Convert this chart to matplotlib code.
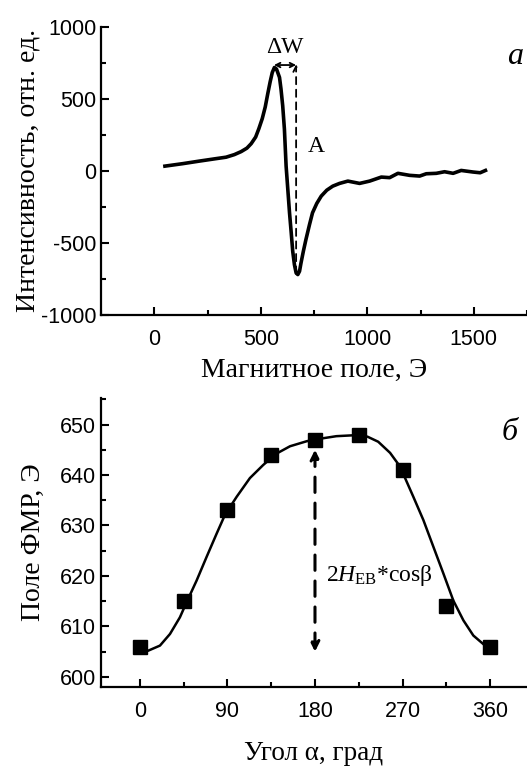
import matplotlib
matplotlib.use('Agg')
import matplotlib.pyplot as plt
from matplotlib.ticker import MultipleLocator

# FMR spectrum (panel a)
field = [50, 133, 212, 290, 337, 376, 408, 435, 455, 476, 491, 507, 521, 533, 544,
         554, 564, 574, 588, 595, 603, 611, 619, 627, 635, 643, 650, 658, 666, 674,
         682, 689, 700, 712, 729, 743, 763, 784, 810, 838, 870, 909, 964, 1011,
         1066, 1105, 1144, 1199, 1246, 1277, 1324, 1363, 1403, 1441, 1497, 1530, 1555]
intensity = [33, 50, 68, 85, 95, 113, 134, 158, 189, 235, 293, 363, 444, 537, 618,
             683, 718, 707, 649, 568, 452, 290, 33, -129, -291, -430, -558, -651, -709, -720,
             -697, -639, -558, -477, -372, -291, -226, -175, -134, -106, -87, -71, -87, -71,
             -43, -47, -17, -31, -36, -20, -17, -6, -17, 3, -8, -13, 3]

# resonance field vs angle (panel b)
angle = [0, 45, 90, 135, 180, 225, 270, 315, 360]
h_res = [606, 615, 633, 644, 647, 648, 641, 614, 606]
fit_angle = [0, 8.6, 20.6, 30.9, 41.1, 48, 58.3, 68.6, 78.9, 87.4, 99.5, 113.1, 126.8,
             140, 154.3, 171.5, 182, 202, 222, 234, 245, 257.2, 267.4, 281.1, 291.4,
             301.7, 312, 322.3, 332.6, 342.8, 354.9, 360]
fit_h = [604.7, 605.2, 606.2, 608.5, 611.8, 614.8, 619.1, 623.8, 628.4, 632.1, 635.7,
         639.4, 642.0, 644.2, 645.7, 646.7, 647.1, 647.7, 647.9, 647.6, 646.6, 644.4, 641.7,
         635.7, 631.1, 625.8, 620.5, 615.1, 611.2, 608.2, 606.2, 605.5]

plt.rcParams['font.family'] = ['Liberation Sans', 'DejaVu Sans']
plt.rcParams['axes.unicode_minus'] = False
plt.rcParams['mathtext.fontset'] = 'custom'
plt.rcParams['mathtext.rm'] = 'Liberation Serif'
plt.rcParams['mathtext.it'] = 'Liberation Serif:italic'
serif = ['Liberation Serif', 'DejaVu Serif']

fig = plt.figure(figsize=(5.27, 7.68), dpi=100)
ax1 = fig.add_axes([0.1917, 0.590, 0.8083, 0.375])
ax2 = fig.add_axes([0.1917, 0.1055, 0.8083, 0.3765])

for ax in (ax1, ax2):
    ax.spines['top'].set_visible(False)
    ax.spines['right'].set_visible(False)
    ax.spines['left'].set_linewidth(1.6)
    ax.spines['bottom'].set_linewidth(1.6)
    ax.tick_params(which='major', direction='in', length=6, width=1.5, labelsize=15.5)
    ax.tick_params(which='minor', direction='in', length=3.5, width=1.5)
    ax.tick_params(axis='x', pad=10)

# panel a
ax1.plot(field, intensity, color='black', lw=2.6)
ax1.set_xlim(-250, 1750)
ax1.set_ylim(-1000, 1000)
ax1.xaxis.set_major_locator(MultipleLocator(500))
ax1.xaxis.set_minor_locator(MultipleLocator(250))
ax1.yaxis.set_major_locator(MultipleLocator(500))
ax1.yaxis.set_minor_locator(MultipleLocator(250))
ax1.set_xlabel('Магнитное поле, Э', family=serif, fontsize=20, labelpad=6)
ax1.set_ylabel('Интенсивность, отн. ед.', family=serif, fontsize=20, labelpad=0)
ax1.annotate('', xy=(666, 740), xytext=(666, -715),
             arrowprops=dict(arrowstyle='->', ls=(0, (4, 3)), lw=1.3, color='black',
                             shrinkA=0, shrinkB=0))
ax1.annotate('', xy=(562, 735), xytext=(666, 735),
             arrowprops=dict(arrowstyle='<->', lw=1.3, color='black',
                             shrinkA=0, shrinkB=0, mutation_scale=8))
ax1.text(614, 785, 'ΔW', family=serif, fontsize=17, ha='center', va='bottom')
ax1.text(720, 170, 'A', family=serif, fontsize=17, ha='left', va='center')
fig.text(0.977, 0.927, 'a', family=serif, fontsize=23, style='italic',
         ha='center', va='center')

# panel b
ax2.plot(fit_angle, fit_h, color='black', lw=1.8)
ax2.plot(angle, h_res, 's', color='black', ms=10)
ax2.set_xlim(-40, 398)
ax2.set_ylim(598, 655.3)
ax2.xaxis.set_major_locator(MultipleLocator(90))
ax2.xaxis.set_minor_locator(MultipleLocator(45))
ax2.yaxis.set_major_locator(MultipleLocator(10))
ax2.yaxis.set_minor_locator(MultipleLocator(5))
ax2.set_xlabel('Угол α, град', family=serif, fontsize=19.5, labelpad=14)
ax2.set_ylabel('Поле ФМР, Э', family=serif, fontsize=20, labelpad=10)
ax2.annotate('', xy=(180, 645), xytext=(180, 605),
             arrowprops=dict(arrowstyle='<|-|>', ls=(0, (5, 3.5)), lw=2.2, color='black',
                             shrinkA=0, shrinkB=0, mutation_scale=14))
ax2.text(191, 620, r'2$\mathit{H}_{\mathrm{EB}}$*cosβ', family=serif, fontsize=17,
         ha='left', va='center')
fig.text(0.967, 0.437, 'б', family=serif, fontsize=23, style='italic',
         ha='center', va='center')

fig.savefig('out.png', dpi=100)
